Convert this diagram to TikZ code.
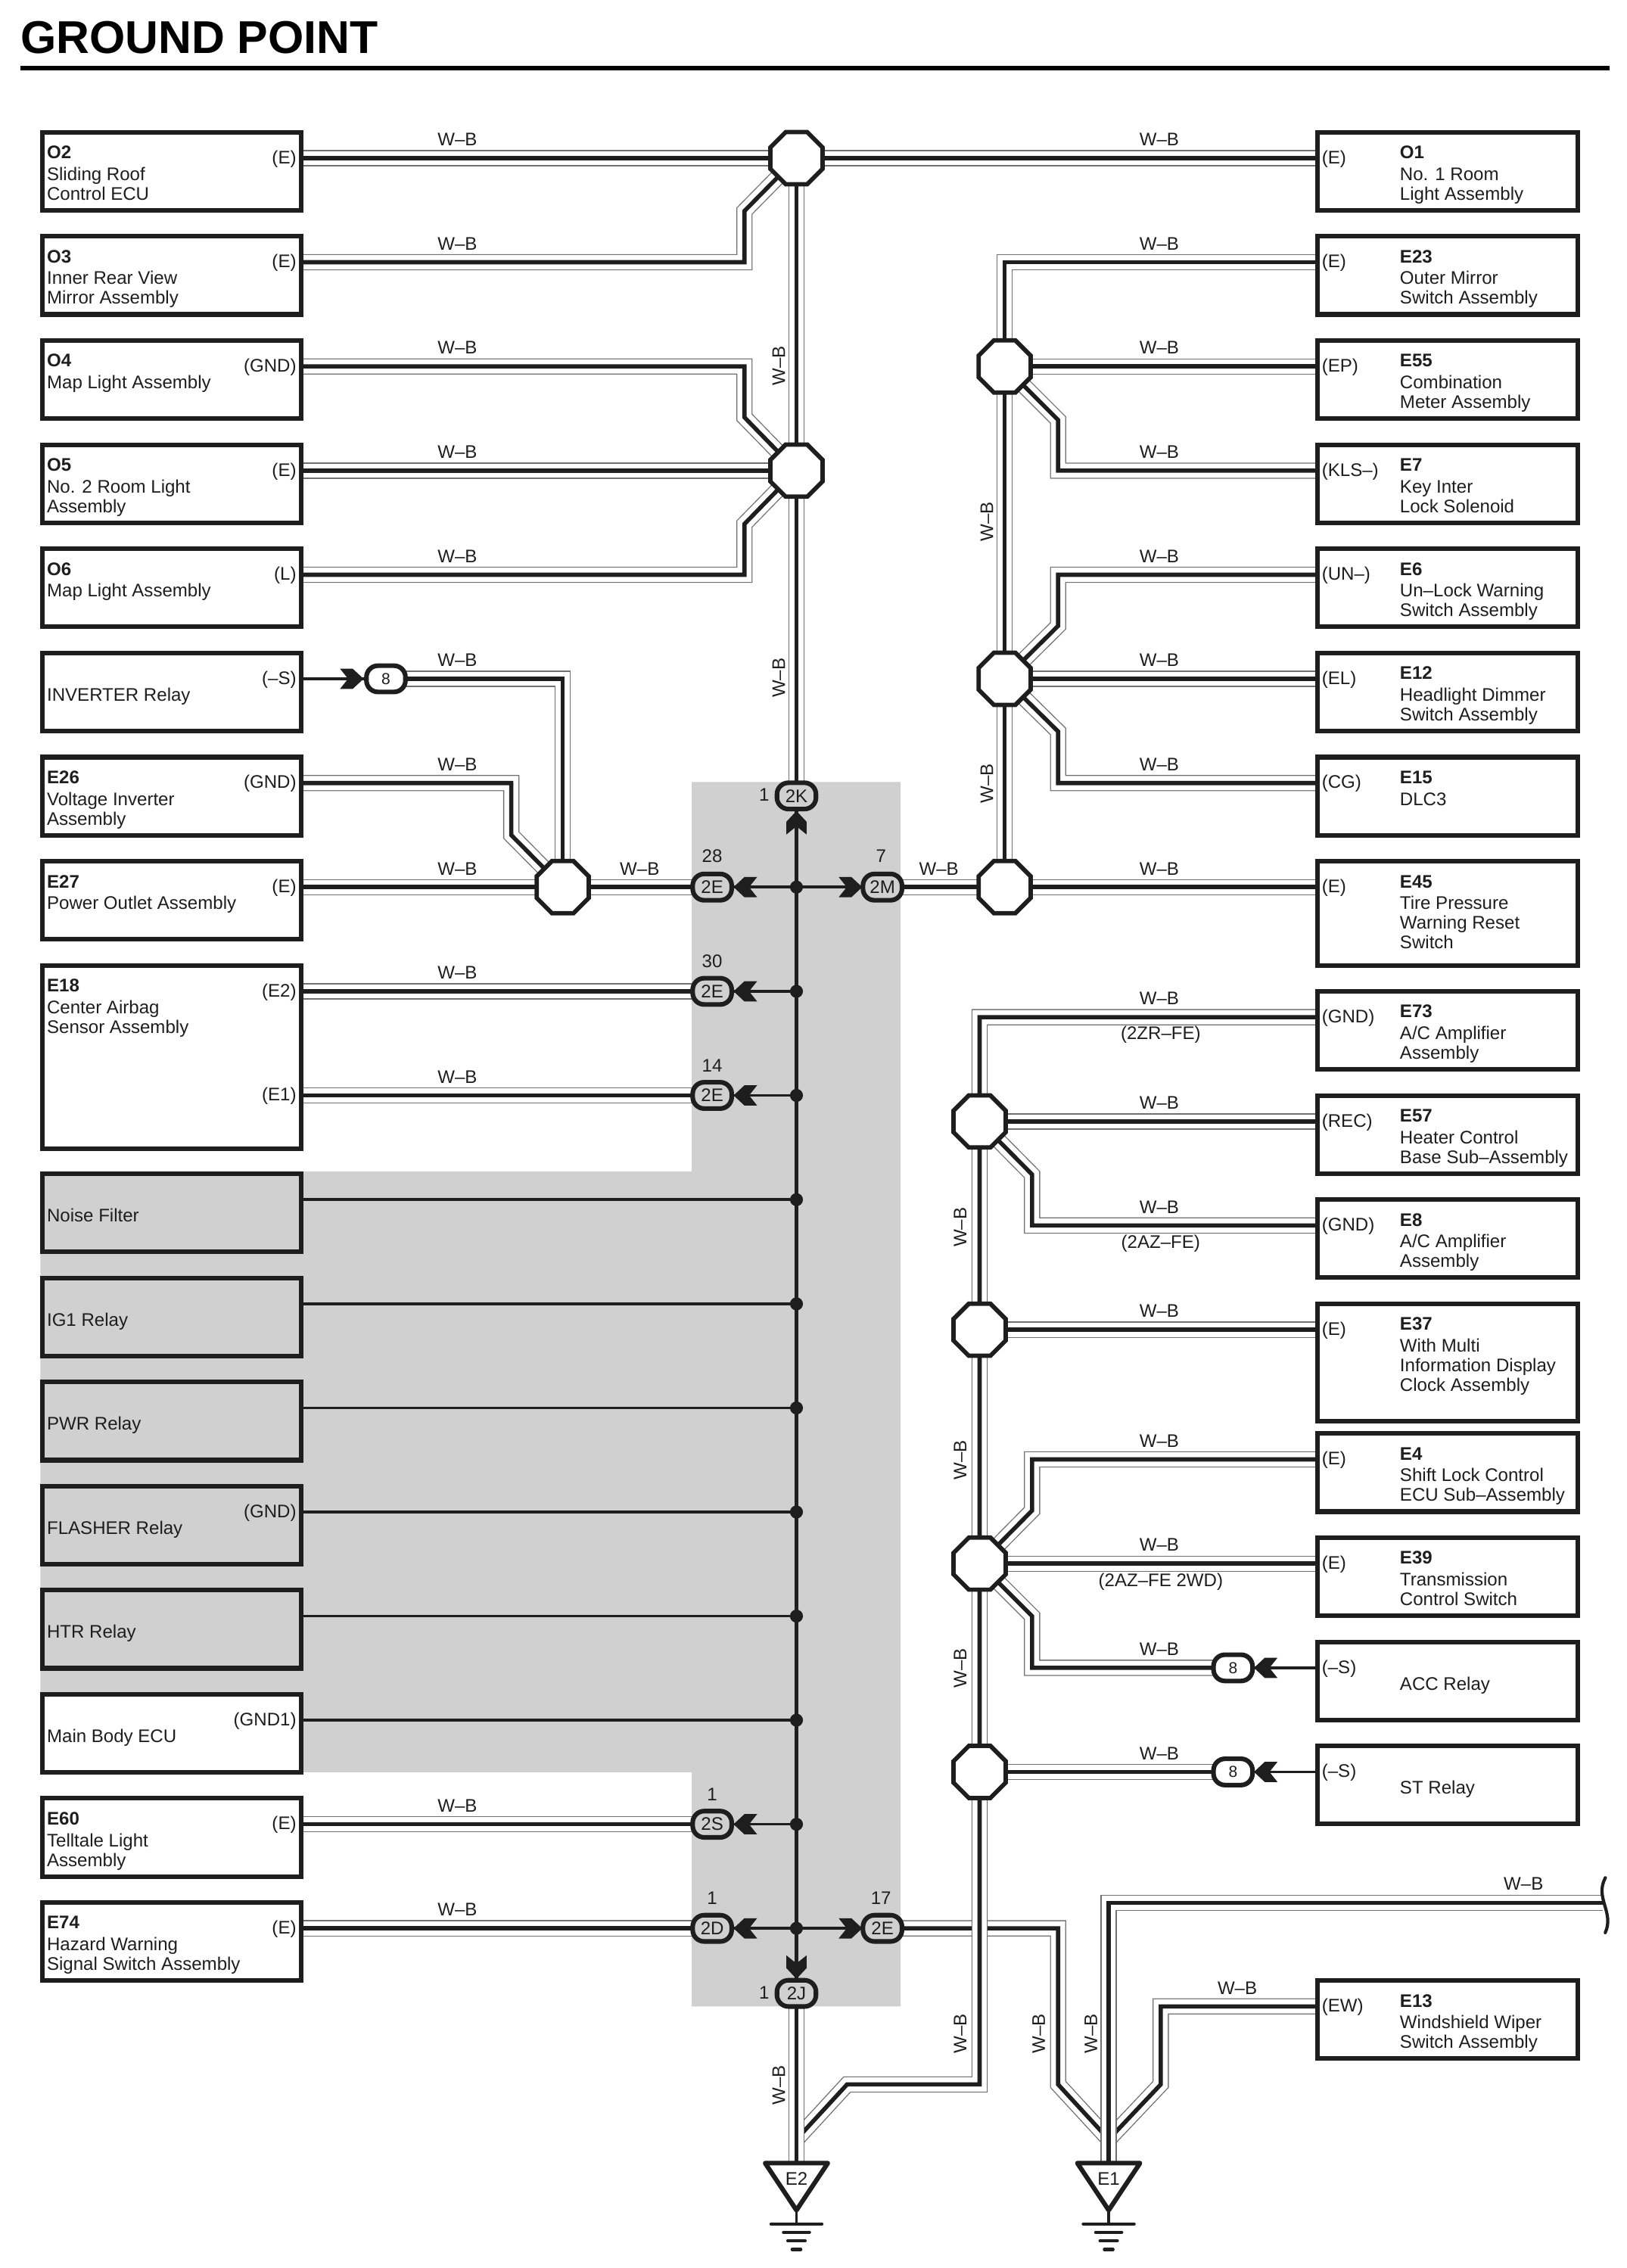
\documentclass[tikz,border=0pt]{standalone}
\usepackage{fontspec}
\setmainfont{Liberation Sans}
\usetikzlibrary{shapes.geometric}
\pgfdeclarelayer{back}
\pgfdeclarelayer{wires}
\pgfsetlayers{back,wires,main}
\definecolor{ink}{HTML}{1E1E1E}
\definecolor{panelc}{HTML}{D0D0D0}
\definecolor{wgray}{HTML}{707070}
\newcounter{tn}
\tikzset{
  lab/.style={inner sep=0pt,outer sep=0pt,text=ink,font=\fontsize{12.6}{14}\selectfont},
  bx/.style={draw=ink,line width=3.2pt,rectangle,anchor=north west,inner sep=0pt,outer sep=0pt},
  junc/.style={draw=ink,fill=white,line width=3pt,regular polygon,regular polygon sides=8,minimum size=39pt,inner sep=0pt,outer sep=0pt},
  conn/.style={draw=ink,fill=panelc,line width=3.2pt,rectangle,rounded corners=8pt,minimum width=27pt,minimum height=18.2pt,inner sep=0pt,outer sep=0pt,text=ink,font=\fontsize{12.6}{14}\selectfont},
  connw/.style={conn,fill=white,font=\fontsize{11}{13}\selectfont},
  dotn/.style={circle,fill=ink,minimum size=9pt,inner sep=0pt,outer sep=0pt},
  wire/.style={draw=wgray,line width=11.2pt,line join=miter,postaction={draw=white,line width=9.8pt},postaction={draw=ink,line width=2.9pt}},
  bus/.style={draw=ink,line width=1.9pt},
  busv/.style={draw=ink,line width=2.6pt},
  gnd/.style={draw=ink,line width=2.2pt,line cap=round},
}
\newcommand\tx[4][base west]{\stepcounter{tn}\node[lab,anchor=#1] (t\arabic{tn}) at (#2,#3+3.8) {#4};}
\newcommand\ifne[2]{\if\relax\detokenize{#1}\relax\else #2\fi}
\newcommand\names[6]{%
  \ifne{#3}{\tx{#1}{#2-3.4}{\textbf{#3}}}%
  \ifne{#4}{\tx{#1}{#2+11.6}{#4}}%
  \ifne{#5}{\tx{#1}{#2+25.2}{#5}}%
  \ifne{#6}{\tx{#1}{#2+38.6}{#6}}%
}
\newcommand\LB[9]{%
  \node[bx,fill=#4,minimum width=179pt,minimum height={#3-3}] (#1) at (29.5,#2-17.9) {};
  \coordinate (#1p) at (209,#2);
  \ifne{#5}{\tx[base east]{205}{#2}{#5}}%
  \names{32.5}{#2}{#6}{#7}{#8}{#9}%
}
\newcommand\RB[9]{%
  \node[bx,fill=#4,minimum width=180pt,minimum height={#3-3}] (#1) at (911.5,#2-17.9) {};
  \coordinate (#1p) at (910,#2);
  \ifne{#5}{\tx{914.5}{#2}{#5}}%
  \names{968.5}{#2}{#6}{#7}{#8}{#9}%
}
\newcommand\wb[2]{\tx[base]{#1}{#2+0.7}{W–B}}
\newcommand\wbr[2]{\stepcounter{tn}\node[lab,rotate=90] (t\arabic{tn}) at (#1,#2) {W–B};}
\newcommand\chev[3]{\fill[ink,shift={(#1,#2)},rotate=#3] (0,0)--(7.5,-7)--(16.3,-7)--(10.7,0)--(16.3,7)--(7.5,7)--cycle;}
\newcommand\gnd[3]{%
  \coordinate (#1top) at (#2,1497);
  \coordinate (#1apex) at (#2,1529);
  \coordinate (#1b) at (#2,1538.5);
  \draw[gnd,line cap=butt,line width=1.8pt] (#1apex) -- (#1b);
  \draw[draw=ink,fill=white,line width=3.2pt,line join=round] (#2-21.7,1496.4) -- (#2+21.7,1496.4) -- (#1apex) -- cycle;
  \draw[gnd] (#2-17.6,1538.5) -- (#2+17.6,1538.5);
  \draw[gnd] (#2-9,1544.3) -- (#2+9,1544.3);
  \draw[gnd] (#2-6,1550.2) -- (#2+6,1550.2);
  \draw[gnd] (#2-3,1556.2) -- (#2+3,1556.2);
  \tx[base]{#2}{1508}{#3}
}
\begin{document}
\begin{tikzpicture}[x=1pt,y=-1pt]
\useasboundingbox (0,0) rectangle (1125.1,1569);
% panel
\begin{pgfonlayer}{back}
\fill[panelc] (478.5,541) -- (623,541) -- (623,1388) -- (478.5,1388) -- (478.5,1226) -- (28,1226) -- (28,810.5) -- (478.5,810.5) -- cycle;
\end{pgfonlayer}
% title
\node[inner sep=0pt,anchor=base west,text=black,font=\fontsize{31.8}{36}\selectfont\bfseries] (title) at (14,37) {GROUND POINT};
\coordinate (ruleL) at (14,47);
\coordinate (ruleR) at (1113.5,47);
\draw[black,line width=3.2pt] (ruleL) -- (ruleR);
% left boxes
\LB{O2}{109.4}{57}{white}{(E)}{O2}{Sliding Roof}{Control ECU}{}
\LB{O3}{181.4}{57}{white}{(E)}{O3}{Inner Rear View}{Mirror Assembly}{}
\LB{O4}{253.5}{57}{white}{(GND)}{O4}{Map Light Assembly}{}{}
\LB{O5}{325.6}{57}{white}{(E)}{O5}{No. 2 Room Light}{Assembly}{}
\LB{O6}{397.6}{57}{white}{(L)}{O6}{Map Light Assembly}{}{}
\LB{INV}{469.6}{57}{white}{(–S)}{}{INVERTER Relay}{}{}
\LB{E26}{541.7}{57}{white}{(GND)}{E26}{Voltage Inverter}{Assembly}{}
\LB{E27}{613.7}{57}{white}{(E)}{E27}{Power Outlet Assembly}{}{}
\LB{E18}{685.8}{130}{white}{(E2)}{E18}{Center Airbag}{Sensor Assembly}{}
\coordinate (E18q) at (209,757.8);
\tx[base east]{205}{757.8}{(E1)}
\LB{NF}{829.9}{57}{panelc}{}{}{Noise Filter}{}{}
\LB{IG}{902}{57}{panelc}{}{}{IG1 Relay}{}{}
\LB{PWR}{974}{57}{panelc}{}{}{PWR Relay}{}{}
\LB{FL}{1046}{57}{panelc}{(GND)}{}{FLASHER Relay}{}{}
\LB{HTR}{1118}{57}{panelc}{}{}{HTR Relay}{}{}
\LB{MB}{1190}{57}{white}{(GND1)}{}{Main Body ECU}{}{}
\LB{E60}{1262}{57}{white}{(E)}{E60}{Telltale Light}{Assembly}{}
\LB{E74}{1334}{57}{white}{(E)}{E74}{Hazard Warning}{Signal Switch Assembly}{}
% right boxes
\RB{O1}{109.4}{57}{white}{(E)}{O1}{No. 1 Room}{Light Assembly}{}
\RB{E23}{181.4}{57}{white}{(E)}{E23}{Outer Mirror}{Switch Assembly}{}
\RB{E55}{253.5}{57}{white}{(EP)}{E55}{Combination}{Meter Assembly}{}
\RB{E7}{325.6}{57}{white}{(KLS–)}{E7}{Key Inter}{Lock Solenoid}{}
\RB{E6}{397.6}{57}{white}{(UN–)}{E6}{Un–Lock Warning}{Switch Assembly}{}
\RB{E12}{469.6}{57}{white}{(EL)}{E12}{Headlight Dimmer}{Switch Assembly}{}
\RB{E15}{541.7}{57}{white}{(CG)}{E15}{DLC3}{}{}
\RB{E45}{613.7}{75}{white}{(E)}{E45}{Tire Pressure}{Warning Reset}{Switch}
\RB{E73}{703.7}{57}{white}{(GND)}{E73}{A/C Amplifier}{Assembly}{}
\RB{E57}{775.8}{57}{white}{(REC)}{E57}{Heater Control}{Base Sub–Assembly}{}
\RB{E8}{847.8}{57}{white}{(GND)}{E8}{A/C Amplifier}{Assembly}{}
\RB{E37}{919.9}{84}{white}{(E)}{E37}{With Multi}{Information Display}{Clock Assembly}
\RB{E4}{1009.6}{57}{white}{(E)}{E4}{Shift Lock Control}{ECU Sub–Assembly}{}
\RB{E39}{1081.7}{57}{white}{(E)}{E39}{Transmission}{Control Switch}{}
\RB{ACC}{1153.8}{57}{white}{(–S)}{}{ACC Relay}{}{}
\RB{ST}{1225.8}{57}{white}{(–S)}{}{ST Relay}{}{}
\RB{E13}{1388}{57}{white}{(EW)}{E13}{Windshield Wiper}{Switch Assembly}{}
% ground symbols
\gnd{gA}{551}{E2}
\gnd{gB}{767}{E1}
\coordinate (gAj) at (551,1480);
\coordinate (gBj) at (767,1480);
% chevrons
\chev{251.5}{469.6}{180}
\chev{507.5}{613.7}{0}
\chev{596.5}{613.7}{180}
\chev{507.5}{685.8}{0}
\chev{507.5}{757.8}{0}
\chev{507.5}{1262}{0}
\chev{507.5}{1334}{0}
\chev{596.5}{1334}{180}
\chev{551}{561}{-90}
\chev{551}{1369}{90}
\chev{867.5}{1153.8}{0}
\chev{867.5}{1225.8}{0}
% dots
\foreach \n/\y in {a/613.7,b/685.8,c/757.8,d/829.9,e/902,f/974,g/1046,h/1118,i/1190,j/1262,k/1334}
  \node[dotn] (d\n) at (551,\y) {};
% connectors
\node[conn] (c2K) at (551,550.6) {2K};
\node[conn] (c2J) at (551,1379) {2J};
\node[conn] (c28) at (492.7,613.7) {2E};
\node[conn] (c2M) at (610.5,613.7) {2M};
\node[conn] (c30) at (492.7,685.8) {2E};
\node[conn] (c14) at (492.7,757.8) {2E};
\node[conn] (c2S) at (492.7,1262) {2S};
\node[conn] (c2D) at (492.7,1334) {2D};
\node[conn] (c17) at (610.5,1334) {2E};
\node[connw] (c8a) at (267,469.6) {8};
\node[connw] (c8b) at (853,1153.8) {8};
\node[connw] (c8c) at (853,1225.8) {8};
\tx[base]{528.7}{550.6}{1}
\tx[base]{528.7}{1379}{1}
\tx[base]{492.7}{593}{28}
\tx[base]{609.5}{593}{7}
\tx[base]{492.7}{665.3}{30}
\tx[base]{492.7}{737.8}{14}
\tx[base]{492.7}{1241.8}{1}
\tx[base]{492.7}{1313.8}{1}
\tx[base]{609.5}{1313.8}{17}
% junctions
\foreach \n/\x/\y in {J1/551/109.4,J2/551/325.6,J3/695/253.5,J4/695/469.6,J5/389.3/613.7,J6/695/613.7,J7/677.7/775.8,J8/677.7/919.9,J9/677.7/1081.7,J10/677.7/1225.8}
  \node[junc] (\n) at (\x,\y) {};
% wire labels
\foreach \y in {96.4,168.4,240.5,312.6,384.6,456.6,528.7,600.7,672.8,744.8,1249,1321}
  {\wb{316.4}{\y}}
\foreach \y in {96.4,168.4,240.5,312.6,384.6,456.6,528.7,600.7,690.7,762.8,834.8,906.9,996.6,1068.7,1140.8,1212.8}
  {\wb{802}{\y}}
\wb{442.5}{600.7}
\wb{649.5}{600.7}
\wb{856}{1375}
\wb{1054}{1303}
\tx[base]{803}{715.5}{(2ZR–FE)}
\tx[base]{803}{859.5}{(2AZ–FE)}
\tx[base]{803}{1093.5}{(2AZ–FE 2WD)}
\wbr{538.7}{253}
\wbr{538.7}{469}
\wbr{538.7}{1442.6}
\wbr{682.7}{361}
\wbr{682.7}{542}
\wbr{664.3}{849}
\wbr{664.3}{1010}
\wbr{664.3}{1154}
\wbr{664.3}{1407}
\wbr{718.6}{1407}
\wbr{754.7}{1407}
% break mark
\coordinate (brk) at (1109,1316.5);
\draw[ink,line width=2.2pt,line cap=round] (1110.6,1299) .. controls (1103,1313) and (1117,1323) .. (1110.5,1337);
% wires
\begin{pgfonlayer}{wires}
% thin lines
\draw[bus] (INVp) -- (c8a);
\draw[bus] (c8b) -- (ACCp);
\draw[bus] (c8c) -- (STp);
\draw[bus] (c28) -- (c2M);
\draw[bus] (c30) -- (db);
\draw[bus] (c14) -- (dc);
\draw[bus] (c2S) -- (dj);
\draw[bus] (c2D) -- (c17);
\draw[bus] (NFp) -- (dd);
\draw[bus] (IGp) -- (de);
\draw[bus] (PWRp) -- (df);
\draw[bus] (FLp) -- (dg);
\draw[bus] (HTRp) -- (dh);
\draw[bus] (MBp) -- (di);
\draw[busv] (c2K) -- (c2J);
% left branches
\draw[wire] (O3p) -- (515,181.4) -- (515,146) -- (J1.center);
\draw[wire] (O4p) -- (515,253.5) -- (515,288.7) -- (J2.center);
\draw[wire] (O6p) -- (515,397.6) -- (515,362.5) -- (J2.center);
\draw[wire] (O2p) -- (J1.center) -- (O1p);
\draw[wire] (O5p) -- (J2.center);
\draw[wire] (J1.center) -- (J2.center) -- (c2K.center);
\draw[wire] (E26p) -- (353.7,541.7) -- (353.7,577.7) -- (J5.center);
\draw[wire] (c8a.center) -- (389.3,469.6) -- (J5.center);
\draw[wire] (E27p) -- (J5.center) -- (c28.center);
\draw[wire] (E18p) -- (c30.center);
\draw[wire] (E18q) -- (c14.center);
\draw[wire] (E60p) -- (c2S.center);
\draw[wire] (E74p) -- (c2D.center);
% right upper
\draw[wire] (E7p) -- (732,325.6) -- (732,290.5) -- (J3.center);
\draw[wire] (E6p) -- (732,397.6) -- (732,433) -- (J4.center);
\draw[wire] (E15p) -- (732,541.7) -- (732,506) -- (J4.center);
\draw[wire] (E55p) -- (J3.center);
\draw[wire] (E12p) -- (J4.center);
\draw[wire] (E23p) -- (695,181.4) -- (J3.center) -- (J4.center) -- (J6.center);
\draw[wire] (c2M.center) -- (J6.center) -- (E45p);
% right lower
\draw[wire] (E8p) -- (714,847.8) -- (714,812.5) -- (J7.center);
\draw[wire] (E57p) -- (J7.center);
\draw[wire] (E37p) -- (J8.center);
\draw[wire] (E4p) -- (714,1009.6) -- (714,1045) -- (J9.center);
\draw[wire] (c8b.center) -- (714,1153.8) -- (714,1118) -- (J9.center);
\draw[wire] (E39p) -- (J9.center);
\draw[wire] (c8c.center) -- (J10.center);
% ground wires
\draw[wire] (c17.center) -- (732,1334) -- (732,1442) -- (gBj);
\draw[wire] (E13p) -- (803,1388) -- (803,1442) -- (gBj);
\draw[wire] (brk) -- (767,1316.5) -- (gBtop);
\draw[wire] (E73p) -- (677.7,703.7) -- (J7.center) -- (J8.center) -- (J9.center) -- (J10.center) -- (677.7,1442) -- (586,1442) -- (gAj);
\draw[wire] (c2J.center) -- (gAtop);
\end{pgfonlayer}
\end{tikzpicture}
\end{document}
